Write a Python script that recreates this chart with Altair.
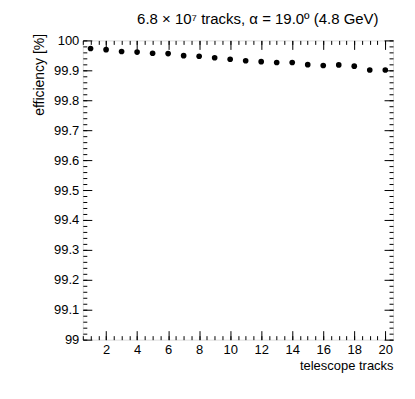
import altair as alt
import pandas as pd

tracks = list(range(1, 21))
efficiency = [99.973, 99.969, 99.963, 99.961, 99.957, 99.956, 99.949, 99.947,
              99.942, 99.937, 99.932, 99.929, 99.926, 99.926, 99.919, 99.916,
              99.918, 99.914, 99.901, 99.901]

x_major = [2, 4, 6, 8, 10, 12, 14, 16, 18, 20]
x_minor = [0.5 * k for k in range(1, 41)]
y_major = [round(99 + 0.1 * k, 1) for k in range(11)]
y_minor = [round(99 + 0.02 * k, 2) for k in range(51)]

title_text = "6.8 × 10⁷ tracks, α = 19.0º (4.8 GeV)"
x_title = "telescope tracks"
y_title = "efficiency [%]"

df = pd.DataFrame({"tracks": tracks, "eff": efficiency})

FONT = "Liberation Sans"
xs = alt.Scale(domain=[0.5, 20.5], nice=False, zero=False)
ys = alt.Scale(domain=[99, 100], nice=False, zero=False)


def ax(orient, values, size, labels=False, title=None, **kw):
    return alt.Axis(orient=orient, values=values, tickSize=size, offset=-size,
                    domain=False, grid=False, labels=labels, title=title,
                    tickColor="black", tickWidth=1, **kw)


base = alt.Chart(df)

points = base.mark_circle(size=32, color="black", opacity=1).encode(
    x=alt.X("tracks:Q", scale=xs,
            axis=ax("bottom", x_major, 9, labels=True, title=x_title,
                    labelPadding=4, labelFontSize=13, labelFont=FONT,
                    labelColor="black", titleFont=FONT, titleFontSize=13,
                    titleFontWeight="normal", titleColor="black",
                    titleAnchor="end", titleAlign="right", titlePadding=3)),
    y=alt.Y("eff:Q", scale=ys,
            axis=ax("left", y_major, 9, labels=True, title=y_title,
                    labelPadding=4, labelFontSize=13, labelFont=FONT,
                    labelColor="black",
                    labelExpr="replace(format(datum.value, '.1f'), '.0', '')",
                    titleFont=FONT, titleFontSize=14, titleFontWeight="normal",
                    titleColor="black", titleAnchor="end", titleAlign="right",
                    titleY=-7, titlePadding=7)),
)


def ghost(xaxis, yaxis):
    return base.mark_circle(opacity=0).encode(
        x=alt.X("tracks:Q", scale=xs, axis=xaxis),
        y=alt.Y("eff:Q", scale=ys, axis=yaxis),
    )


g1 = ghost(ax("bottom", x_minor, 4), ax("left", y_minor, 4))
g2 = ghost(ax("top", x_major, 9), ax("right", y_major, 9))
g3 = ghost(ax("top", x_minor, 4), ax("right", y_minor, 4))

chart = alt.layer(points, g1, g2, g3).resolve_axis(
    x="independent", y="independent"
).properties(
    width=311, height=300,
    autosize=alt.AutoSizeParams(type="none"),
    padding={"left": 75, "top": 32, "right": 14, "bottom": 52},
    title=alt.TitleParams(title_text, anchor="end", font=FONT, fontSize=15,
                          fontWeight="normal", color="black", offset=6, dx=-15),
).configure_view(stroke="black", strokeWidth=1).configure(background="white")

chart.save("out.html", embed_options={"renderer": "svg", "actions": False})
